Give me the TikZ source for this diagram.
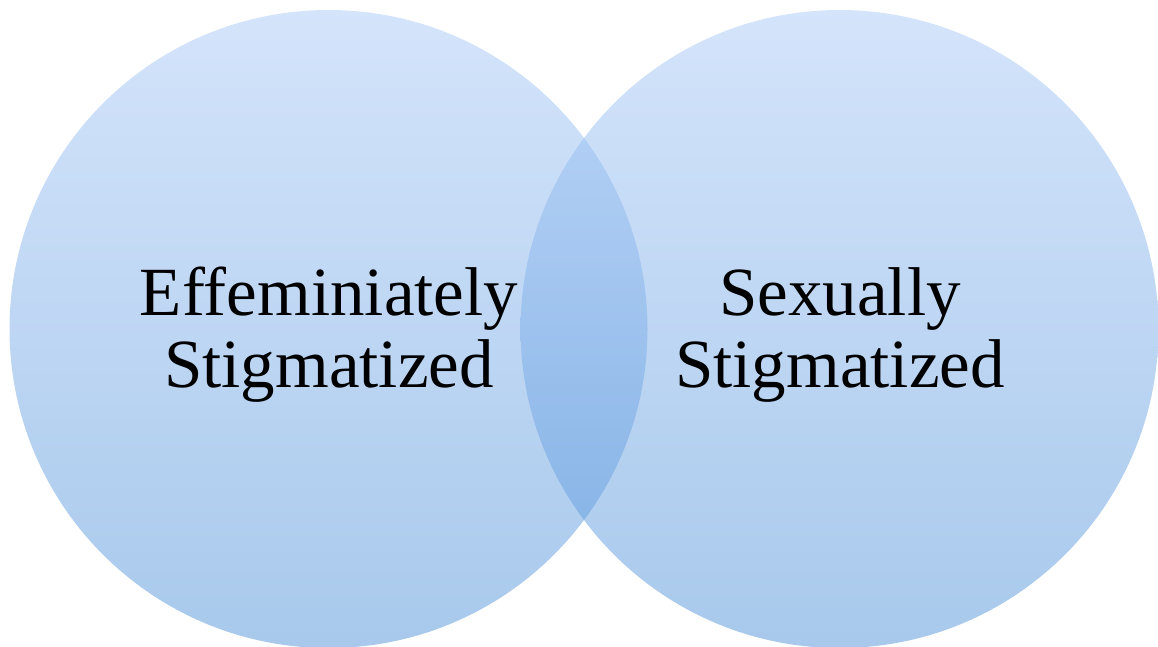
\documentclass[tikz,border=0pt]{standalone}
\usepackage{fontspec}
\setmainfont{Liberation Serif}
\definecolor{vennTop}{HTML}{A9C9F7}
\definecolor{vennBottom}{HTML}{5193D9}
\begin{document}
\begin{tikzpicture}[x=1pt, y=-1pt,
  vennset/.style={top color=vennTop, bottom color=vennBottom, fill opacity=0.5, draw=none},
  vennlabel/.style={align=center, text=black, text opacity=1,
    font=\fontsize{69}{72}\selectfont}]
  \useasboundingbox (0,0) rectangle (1158,646);
  % the two overlapping sets
  \path[vennset] (328.5,329) circle[radius=319];
  \path[vennset] (839.5,329) circle[radius=319];
  % set labels
  \node[vennlabel] (effem) at (329,335) {Effeminiately\\Stigmatized};
  \node[vennlabel] (sexual) at (840,335) {Sexually\\Stigmatized};
\end{tikzpicture}
\end{document}
